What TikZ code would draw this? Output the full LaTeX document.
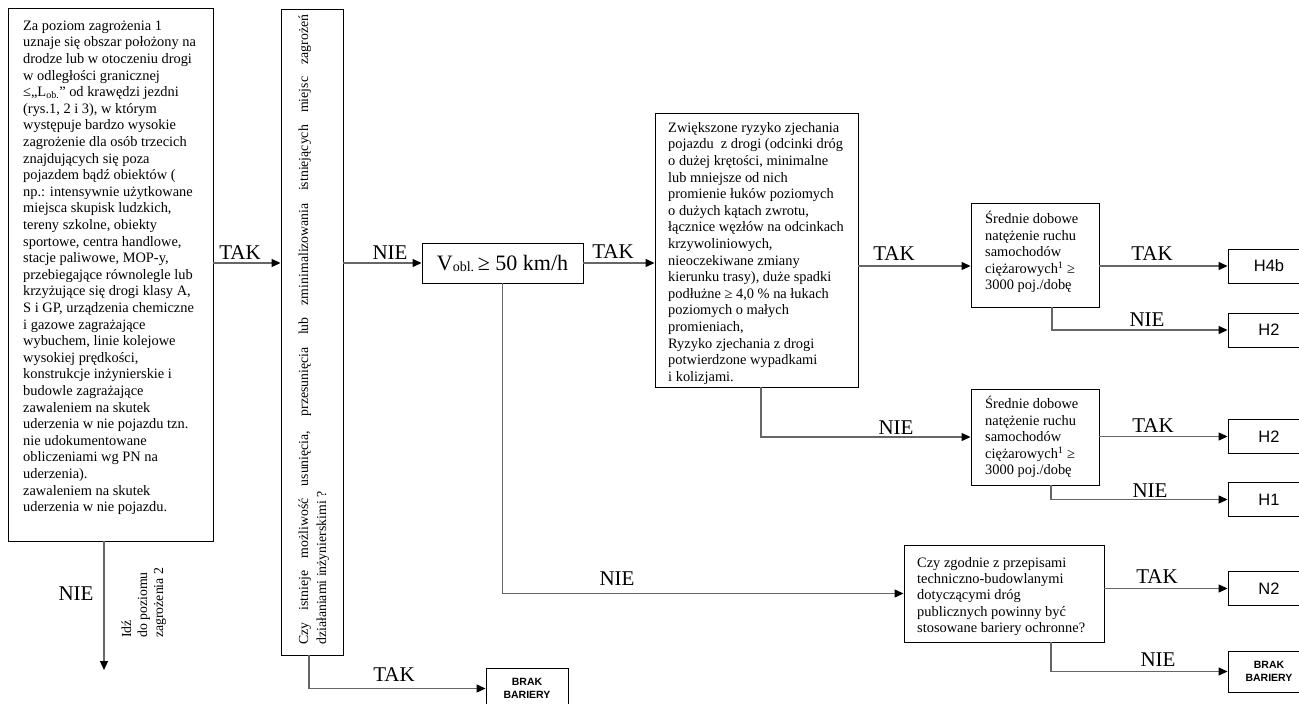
\documentclass[tikz,border=0pt]{standalone}
\usepackage{fontspec}
\setmainfont{Liberation Serif}
\setsansfont{Liberation Sans}
\usetikzlibrary{arrows.meta}
\begin{document}
\begin{tikzpicture}[x=1pt,y=-1pt,
  box/.style={draw=black, line width=0.9pt, inner sep=0pt},
  hbox/.style={box, minimum width=82pt, minimum height=34pt, font=\sffamily\fontsize{16.5}{18}\selectfont},
  bbox/.style={box, minimum width=82pt, minimum height=41pt, align=center, font=\sffamily\bfseries\fontsize{10.5}{12.5}\selectfont},
  txt/.style={anchor=north west, inner sep=0pt, align=left, font=\fontsize{14.4}{16.6}\selectfont},
  lab/.style={anchor=base, inner sep=0pt, font=\fontsize{21}{24}\selectfont},
  conn/.style={draw=black!60, line width=1.2pt, -{Triangle[length=9pt,width=8pt,color=black]}}
]
\fill[white] (0,0) rectangle (1299,704);
\useasboundingbox (0,0) rectangle (1299,704);

% boxes
\node[box, minimum width=205pt, minimum height=533pt] (L) at (110.5,274.5) {};
\node[box, minimum width=62pt, minimum height=646pt] (R) at (312,332) {};
\node[box, minimum width=161pt, minimum height=40pt, font=\fontsize{22}{24}\selectfont] (V) at (502.5,263) {V\raisebox{-1pt}{\fontsize{14}{14}\selectfont obl.}\,≥ 50 km/h};
\node[box, minimum width=203pt, minimum height=274pt] (B) at (756.5,250) {};
\node[box, minimum width=128pt, minimum height=104pt] (S1) at (1035,255) {};
\node[box, minimum width=128pt, minimum height=96pt] (S2) at (1035,437) {};
\node[box, minimum width=200pt, minimum height=97pt] (C) at (1004,593.5) {};
\node[hbox] (H4b) at (1269,266) {H4b};
\node[hbox] (H2a) at (1269,330) {H2};
\node[hbox] (H2b) at (1269,436.5) {H2};
\node[hbox] (H1) at (1269,499.5) {H1};
\node[hbox] (N2) at (1269,588.5) {N2};
\node[bbox] (BR1) at (1269,671.5) {BRAK\\BARIERY};
\node[bbox] (BR2) at (527,688.5) {BRAK\\BARIERY};

% texts
\node[txt] (Ltext) at (23,18) {\rule{0pt}{12pt}Za poziom zagrożenia 1\\
uznaje się obszar położony na\\
drodze lub w otoczeniu drogi\\
w odległości granicznej\\
≤„L\textsubscript{ob.}” od krawędzi jezdni\\
(rys.1, 2 i 3), w którym\\
występuje bardzo wysokie\\
zagrożenie dla osób trzecich\\
znajdujących się poza\\
pojazdem bądź obiektów (\\
np.: intensywnie użytkowane\\
miejsca skupisk ludzkich,\\
tereny szkolne, obiekty\\
sportowe, centra handlowe,\\
stacje paliwowe, MOP-y,\\
przebiegające równolegle lub\\
krzyżujące się drogi klasy A,\\
S i GP, urządzenia chemiczne\\
i gazowe zagrażające\\
wybuchem, linie kolejowe\\
wysokiej prędkości,\\
konstrukcje inżynierskie i\\
budowle zagrażające\\
zawaleniem na skutek\\
uderzenia w nie pojazdu tzn.\\
nie udokumentowane\\
obliczeniami wg PN na\\
uderzenia).\\
zawaleniem na skutek\\
uderzenia w nie pojazdu.};

\node[txt, rotate=90, font=\fontsize{13.8}{18}\selectfont] (Rtext) at (296,645) {\rule{0pt}{12pt}\makebox[630pt][s]{Czy istnieje możliwość usunięcia, przesunięcia lub zminimalizowania istniejących miejsc zagrożeń}\\
działaniami inżynierskimi ?};

\node[txt] (Btext) at (668,120) {\rule{0pt}{12pt}Zwiększone ryzyko zjechania\\
pojazdu\ \ z drogi (odcinki dróg\\
o dużej krętości, minimalne\\
lub mniejsze od nich\\
promienie łuków poziomych\\
o dużych kątach zwrotu,\\
łącznice węzłów na odcinkach\\
krzywoliniowych,\\
nieoczekiwane zmiany\\
kierunku trasy), duże spadki\\
podłużne ≥ 4,0 \% na łukach\\
poziomych o małych\\
promieniach,\\
Ryzyko zjechania z drogi\\
potwierdzone wypadkami\\
i kolizjami.};

\node[txt] (S1text) at (985,211) {\rule{0pt}{12pt}Średnie dobowe\\
natężenie ruchu\\
samochodów\\
ciężarowych\textsuperscript{1} ≥\\
3000 poj./dobę};

\node[txt] (S2text) at (985,396) {\rule{0pt}{12pt}Średnie dobowe\\
natężenie ruchu\\
samochodów\\
ciężarowych\textsuperscript{1} ≥\\
3000 poj./dobę};

\node[txt, font=\fontsize{14.4}{16.3}\selectfont] (Ctext) at (917,555) {\rule{0pt}{12pt}Czy zgodnie z przepisami\\
techniczno-budowlanymi\\
dotyczącymi dróg\\
publicznych powinny być\\
stosowane bariery ochronne?};

\node[txt, rotate=90, font=\fontsize{13.8}{16}\selectfont] (Itext) at (119,638) {\rule{0pt}{12pt}Idź\\do poziomu\\zagrożenia 2};

% connectors
\coordinate (Lend) at (104,670);
\draw[conn] (L.south -| Lend) -- (Lend);
\draw[conn] (L.east |- V) -- (R.west |- V);
\draw[conn] (R.east |- V) -- (V.west);
\draw[conn] (V.east) -- (B.west |- V);
\draw[conn] (B.east |- H4b) -- (S1.west |- H4b);
\draw[conn] (S1.east |- H4b) -- (H4b.west);
\draw[conn] ([xshift=17pt]S1.south) |- (H2a.west);
\draw[conn] ([xshift=4.5pt]B.south) |- (S2.west);
\draw[conn] (S2.east |- H2b) -- (H2b.west);
\draw[conn] ([xshift=16pt]S2.south) |- (H1.west);
\draw[conn] (V.south) |- (C.west);
\draw[conn] (C.east |- N2) -- (N2.west);
\draw[conn] ([xshift=47pt]C.south) |- (BR1.west);
\draw[conn] ([xshift=-3pt]R.south) |- (BR2.west);

% labels
\node[lab] (l1) at (76,600) {NIE};
\node[lab] (l2) at (240,259) {TAK};
\node[lab] (l3) at (390,259) {NIE};
\node[lab] (l4) at (613,258) {TAK};
\node[lab] (l5) at (894,260) {TAK};
\node[lab] (l6) at (1152,260) {TAK};
\node[lab] (l7) at (1147,326) {NIE};
\node[lab] (l8) at (896,434) {NIE};
\node[lab] (l9) at (1153,432) {TAK};
\node[lab] (l10) at (1150,497) {NIE};
\node[lab] (l11) at (1157,583) {TAK};
\node[lab] (l12) at (1158,666) {NIE};
\node[lab] (l13) at (617,585) {NIE};
\node[lab] (l14) at (394,681) {TAK};
\end{tikzpicture}
\end{document}
